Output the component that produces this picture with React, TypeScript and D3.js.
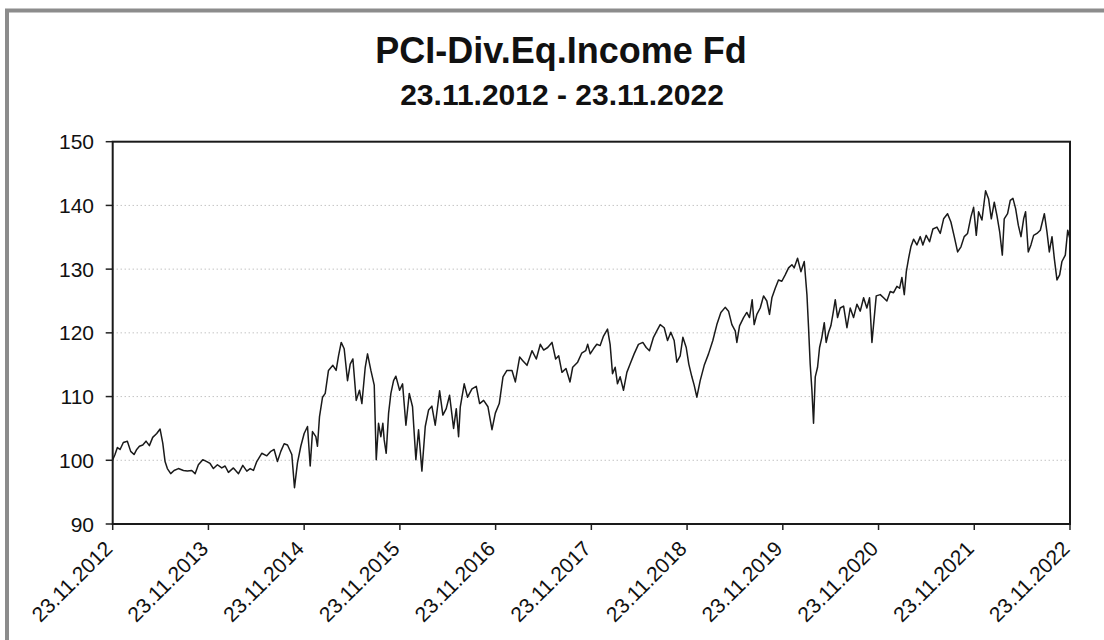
import React from "react";
import * as d3 from "d3";

// Years elapsed since 23.11.2012
const yearsSinceStart: number[] = [
  0.000, 0.024, 0.049, 0.077, 0.111, 0.153, 0.188, 0.223, 0.251, 0.279, 0.314, 0.348, 0.383, 0.418, 0.460, 0.495,
  0.523, 0.547, 0.571, 0.606, 0.641, 0.686, 0.739, 0.780, 0.826, 0.861, 0.895, 0.941, 0.983, 1.017, 1.052, 1.094,
  1.139, 1.174, 1.209, 1.261, 1.314, 1.359, 1.401, 1.436, 1.470, 1.505, 1.557, 1.610, 1.652, 1.686, 1.721, 1.756,
  1.791, 1.826, 1.871, 1.899, 1.930, 1.965, 2.000, 2.035, 2.063, 2.087, 2.122, 2.139, 2.160, 2.192, 2.220, 2.254,
  2.300, 2.334, 2.359, 2.387, 2.418, 2.453, 2.481, 2.509, 2.544, 2.578, 2.603, 2.638, 2.662, 2.697, 2.732, 2.753,
  2.777, 2.801, 2.822, 2.836, 2.857, 2.882, 2.906, 2.934, 2.958, 2.997, 3.028, 3.063, 3.098, 3.132, 3.167, 3.195,
  3.230, 3.265, 3.300, 3.334, 3.369, 3.415, 3.449, 3.484, 3.519, 3.561, 3.589, 3.613, 3.631, 3.672, 3.707, 3.753,
  3.798, 3.833, 3.875, 3.920, 3.962, 3.997, 4.038, 4.077, 4.118, 4.171, 4.206, 4.251, 4.286, 4.328, 4.380, 4.425,
  4.467, 4.502, 4.544, 4.589, 4.627, 4.659, 4.693, 4.735, 4.777, 4.805, 4.857, 4.899, 4.941, 4.962,
  4.988, 5.022, 5.057, 5.092, 5.127, 5.169, 5.196, 5.221, 5.249, 5.273, 5.301, 5.336, 5.371, 5.405, 5.447, 5.492,
  5.538, 5.573, 5.607, 5.649, 5.684, 5.719, 5.761, 5.796, 5.830, 5.865, 5.893, 5.928, 5.956, 5.991, 6.018, 6.050,
  6.074, 6.102, 6.137, 6.179, 6.224, 6.269, 6.311, 6.353, 6.398, 6.433, 6.468, 6.503, 6.520, 6.548, 6.590, 6.624,
  6.652, 6.680, 6.701, 6.729, 6.764, 6.799, 6.833, 6.861, 6.886, 6.921, 6.955, 6.990, 7.025, 7.060, 7.095, 7.119,
  7.154, 7.189, 7.224, 7.252, 7.269, 7.286, 7.304, 7.321, 7.339, 7.363, 7.384, 7.408, 7.433, 7.453, 7.478, 7.502,
  7.523, 7.548, 7.572, 7.600, 7.635, 7.670, 7.704, 7.739, 7.774, 7.809, 7.844, 7.878, 7.906, 7.931, 7.955, 7.976,
  8.018, 8.053, 8.087, 8.122, 8.157, 8.192, 8.220, 8.244, 8.269, 8.290, 8.314, 8.338, 8.366, 8.401, 8.436, 8.463,
  8.498, 8.533, 8.568, 8.610, 8.645, 8.680, 8.721, 8.756, 8.791, 8.826, 8.861, 8.895, 8.930, 8.965, 8.993, 9.021,
  9.045, 9.080, 9.118, 9.150, 9.178, 9.209, 9.237, 9.265, 9.293, 9.313, 9.348, 9.376, 9.404, 9.432, 9.460, 9.488,
  9.516, 9.536, 9.564, 9.592, 9.620, 9.655, 9.690, 9.732, 9.759, 9.784, 9.812, 9.836, 9.864, 9.892, 9.916, 9.951,
  9.976, 10.000,
];

// Fund price
const prices: number[] = [
  100.1, 100.9, 102.0, 101.7, 102.8, 103.0, 101.4, 100.9, 101.7, 102.2, 102.4, 103.0, 102.3, 103.6, 104.2, 104.9,
  102.7, 99.8, 98.7, 97.9, 98.4, 98.7, 98.4, 98.3, 98.4, 97.9, 99.3, 100.1, 99.8, 99.5, 98.7, 99.3,
  98.8, 99.1, 98.1, 98.8, 97.9, 99.2, 98.3, 98.7, 98.4, 99.8, 101.1, 100.7, 101.4, 101.7, 99.8, 101.4,
  102.6, 102.4, 100.9, 95.7, 99.6, 102.2, 104.2, 105.3, 99.1, 104.5, 103.7, 102.2, 106.8, 109.9, 110.5, 114.1,
  114.9, 114.1, 116.4, 118.5, 117.5, 112.5, 115.1, 115.9, 109.4, 111.0, 108.9, 114.6, 116.7, 114.1, 111.8, 100.1,
  105.8, 103.7, 105.8, 103.2, 101.1, 107.4, 110.5, 112.5, 113.2, 111.0, 112.0, 105.5, 110.5, 108.4, 100.1, 104.8,
  98.3, 105.3, 107.9, 108.5, 105.5, 110.9, 107.1, 108.1, 110.2, 105.0, 108.1, 103.7, 108.4, 112.0, 109.9, 111.2,
  111.6, 108.9, 109.4, 108.4, 104.8, 107.4, 108.9, 113.1, 114.1, 114.1, 112.3, 116.2, 115.6, 114.9, 117.2, 115.9,
  118.2, 117.3, 117.7, 118.5, 115.9, 116.4, 113.8, 114.4, 112.3, 114.6, 115.4, 116.8, 117.2, 118.2,
  116.7, 117.5, 118.2, 118.0, 119.5, 120.6, 118.2, 113.6, 114.6, 112.0, 113.1, 111.0, 113.8, 115.1, 116.7, 118.2,
  118.5, 117.7, 117.2, 119.3, 120.3, 121.3, 120.8, 118.8, 120.1, 118.8, 115.4, 116.4, 119.3, 117.7, 115.1, 113.1,
  111.8, 109.9, 112.5, 114.9, 116.7, 118.8, 121.3, 123.2, 124.0, 123.4, 121.3, 120.3, 118.5, 121.1, 122.4, 123.2,
  122.4, 125.2, 121.3, 122.9, 123.9, 125.8, 125.0, 122.9, 125.5, 127.0, 128.3, 128.1, 129.1, 130.2, 130.7, 130.2,
  131.7, 129.6, 131.2, 126.0, 120.8, 115.1, 111.0, 105.8, 113.1, 114.6, 117.7, 119.3, 121.6, 118.5, 120.1, 121.1,
  122.9, 125.2, 122.4, 123.9, 124.2, 120.8, 123.9, 122.4, 124.5, 123.4, 125.5, 123.9, 125.5, 118.5, 122.4, 125.8,
  126.0, 125.5, 125.0, 126.5, 126.3, 127.3, 127.0, 128.7, 126.0, 129.6, 131.7, 133.5, 134.7, 133.8, 135.1, 133.8,
  135.3, 134.3, 136.3, 136.6, 135.6, 137.9, 138.7, 137.4, 135.1, 132.7, 133.5, 135.1, 135.6, 138.2, 139.7, 135.3,
  139.0, 137.7, 142.3, 141.0, 137.9, 140.5, 138.4, 135.9, 132.2, 137.9, 138.7, 140.8, 141.1, 139.5, 136.9, 135.1,
  137.9, 139.0, 132.7, 133.8, 135.3, 135.6, 136.1, 138.7, 135.9, 132.7, 135.1, 131.7, 128.3, 129.1, 131.2, 132.2,
  136.1, 134.7,
];

const xTickLabels: string[] = [
  "23.11.2012", "23.11.2013", "23.11.2014", "23.11.2015", "23.11.2016", "23.11.2017",
  "23.11.2018", "23.11.2019", "23.11.2020", "23.11.2021", "23.11.2022",
];
const yTicks: number[] = [90, 100, 110, 120, 130, 140, 150];
const titleText = "PCI-Div.Eq.Income Fd";
const subtitleText = "23.11.2012 - 23.11.2022";

const W = 1104;
const H = 640;
const left = 112.7;
const right = 1070;
const top = 141.7;
const bottom = 524;
const FONT = "'Liberation Sans', Arial, Helvetica, sans-serif";

export default function App() {
  const x = d3.scaleLinear().domain([0, 10]).range([left, right]);
  const y = d3.scaleLinear().domain([90, 150]).range([bottom, top]);
  const pts = yearsSinceStart.map((t, i) => [t, prices[i]] as [number, number]);
  const line = d3
    .line<[number, number]>()
    .x((d) => x(d[0]))
    .y((d) => y(d[1]));

  return (
    <svg
      width={W}
      height={H}
      viewBox={`0 0 ${W} ${H}`}
      style={{ position: "absolute", left: 0, top: 0, background: "#fff" }}
      fontFamily={FONT}
    >
      <rect x={0} y={0} width={W} height={H} fill="#fff" />
      {/* outer frame */}
      <rect x={7} y={10.5} width={1200} height={800} fill="none" stroke="#8c8c8c" strokeWidth={4} />

      {/* titles */}
      <text x={561} y={63} textAnchor="middle" fontSize={36} fontWeight="bold" fill="#111">
        {titleText}
      </text>
      <text x={562} y={105} textAnchor="middle" fontSize={30} fontWeight="bold" fill="#111">
        {subtitleText}
      </text>

      {/* gridlines */}
      {yTicks
        .filter((v) => v !== 90 && v !== 150)
        .map((v) => (
          <line
            key={"g" + v}
            x1={left}
            x2={right}
            y1={y(v)}
            y2={y(v)}
            stroke="#a8a8a8"
            strokeWidth={1}
            strokeDasharray="1 3"
          />
        ))}

      {/* y ticks & labels */}
      {yTicks.map((v) => (
        <g key={"y" + v}>
          <line x1={left - 7} x2={left} y1={y(v)} y2={y(v)} stroke="#222" strokeWidth={1.5} />
          <text x={94} y={y(v)} dy="0.36em" textAnchor="end" fontSize={21} fill="#111">
            {v}
          </text>
        </g>
      ))}

      {/* x ticks & labels */}
      {xTickLabels.map((lab, i) => {
        const px = x(i);
        return (
          <g key={"x" + i}>
            <line x1={px} x2={px} y1={bottom} y2={bottom + 6} stroke="#222" strokeWidth={1.5} />
            <text
              transform={`translate(${px + 1},${bottom + 26}) rotate(-45)`}
              textAnchor="end"
              fontSize={21}
              fill="#111"
            >
              {lab}
            </text>
          </g>
        );
      })}

      {/* series */}
      <path d={line(pts) || ""} fill="none" stroke="#1a1a1a" strokeWidth={1.5} strokeLinejoin="round" />

      {/* plot border */}
      <rect x={left} y={top} width={right - left} height={bottom - top} fill="none" stroke="#1a1a1a" strokeWidth={2} />
    </svg>
  );
}
